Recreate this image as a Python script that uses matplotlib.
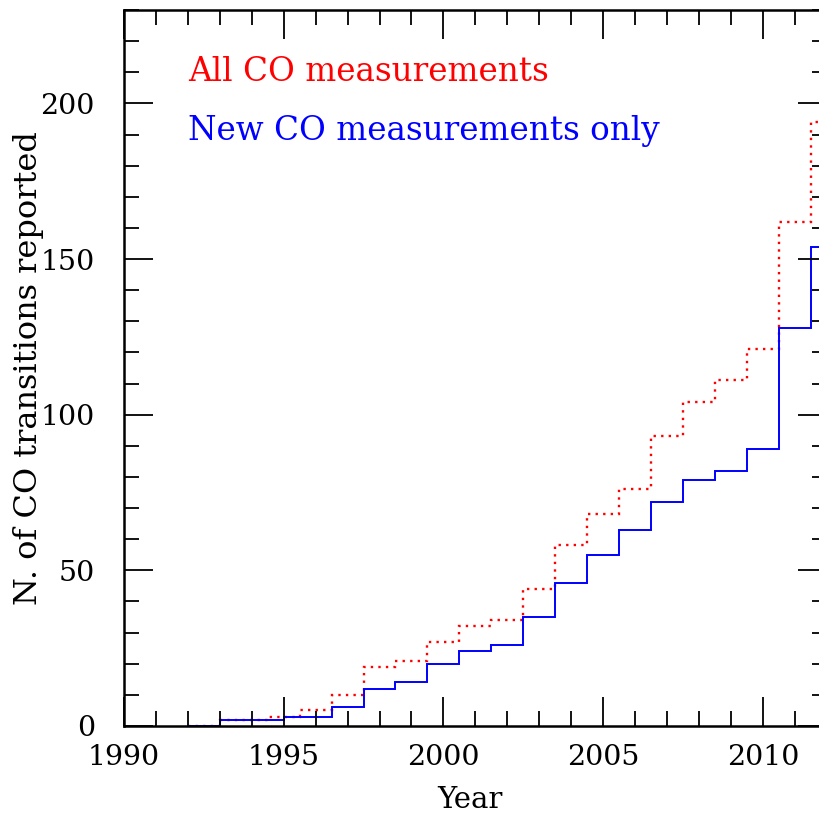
import matplotlib.pyplot as plt
from matplotlib.ticker import MultipleLocator

# Step edges (years) and cumulative counts
all_edges = [1992, 1993, 1994.5, 1995.5, 1996.5, 1997.5, 1998.5, 1999.5, 2000.5,
             2001.5, 2002.5, 2003.5, 2004.5, 2005.5, 2006.5, 2007.5, 2008.5,
             2009.5, 2010.5, 2011.5, 2012.5]
all_counts = [0, 2, 3, 5, 10, 19, 21, 27, 32, 34, 44, 58, 68, 76, 93, 104, 111,
              121, 162, 194]

new_edges = [1992, 1993, 1995, 1996.5, 1997.5, 1998.5, 1999.5, 2000.5, 2001.5,
             2002.5, 2003.5, 2004.5, 2005.5, 2006.5, 2007.5, 2008.5, 2009.5,
             2010.5, 2011.5, 2012.5]
new_counts = [0, 2, 3, 6, 12, 14, 20, 24, 26, 35, 46, 55, 63, 72, 79, 82, 89,
              128, 154]

plt.rcParams['font.family'] = ['DejaVu Serif']

fig = plt.figure(figsize=(8.2, 8.18), dpi=100)
ax = fig.add_axes([0.1512, 0.1125, 0.857, 0.8753])

ax.stairs(all_counts, all_edges, color='red', linestyle=(0, (1, 2.2)), linewidth=1.7)
ax.stairs(new_counts, new_edges, color='blue', linestyle='-', linewidth=1.4)

ax.set_xlim(1990, 2012)
ax.set_ylim(0, 230)

ax.xaxis.set_major_locator(MultipleLocator(5))
ax.xaxis.set_minor_locator(MultipleLocator(1))
ax.yaxis.set_major_locator(MultipleLocator(50))
ax.yaxis.set_minor_locator(MultipleLocator(10))
ax.tick_params(which='both', direction='in', top=True, right=True,
               labelsize=20.5, width=1.3, colors='black')
ax.tick_params(which='major', length=21)
ax.tick_params(which='minor', length=11)
ax.tick_params(axis='x', which='major', pad=13)
ax.tick_params(axis='y', which='major', pad=21)
for s in ax.spines.values():
    s.set_linewidth(1.8)

ax.set_xlabel('Year', fontsize=21)
ax.set_ylabel('N. of CO transitions reported', fontsize=23)
ax.xaxis.set_label_coords(0.492, -0.084)
ax.yaxis.set_label_coords(-0.114, 0.5)

ax.text(1992, 210, 'All CO measurements', color='red', fontsize=23.5, va='center')
ax.text(1992, 191, 'New CO measurements only', color='blue', fontsize=23.5, va='center')

plt.savefig('out.png', dpi=100)
